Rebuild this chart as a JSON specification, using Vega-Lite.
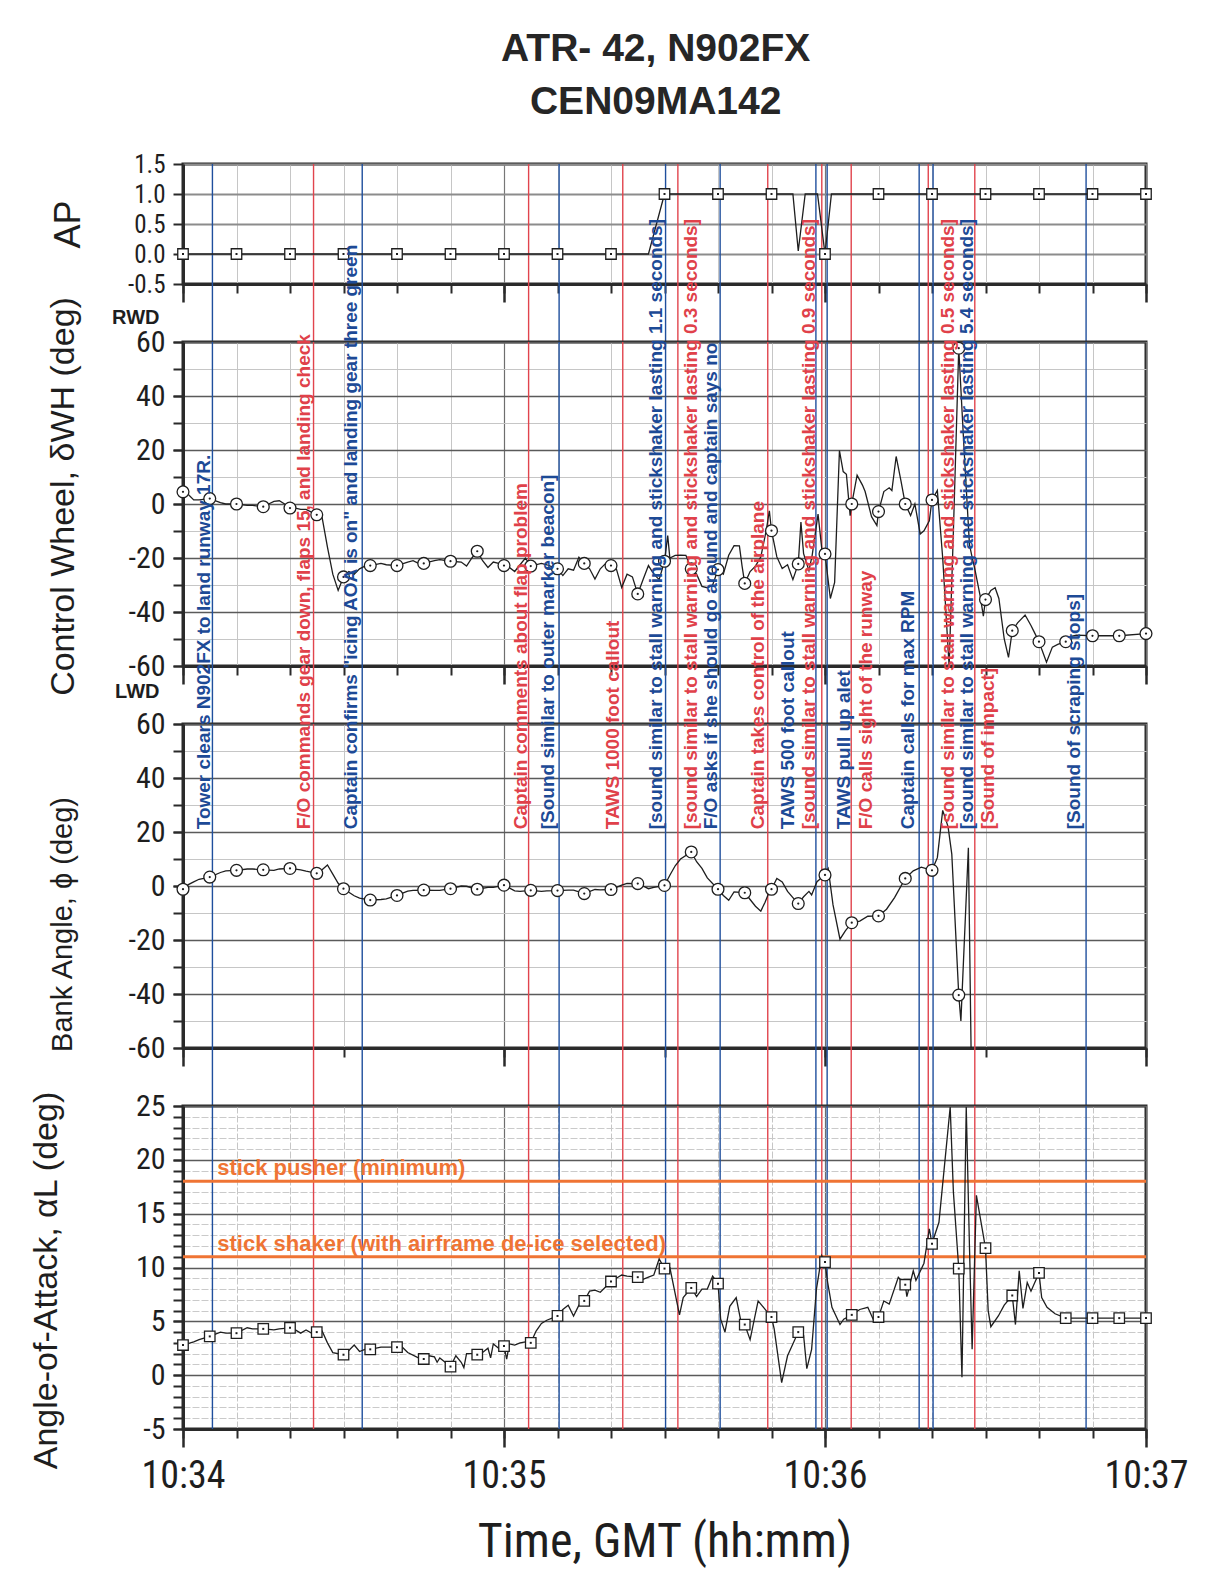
{
 "$schema": "https://vega.github.io/schema/vega-lite/v6.json",
 "background": "white",
 "padding": {"left": 27, "top": 29, "right": 10, "bottom": 10},
 "title": {"text": ["ATR- 42, N902FX", "CEN09MA142"], "fontSize": 39, "fontWeight": "bold", "font": "Liberation Sans", "lineHeight": 53, "color": "#262626", "anchor": "middle", "offset": 29, "dx": 47},
 "spacing": 58,
 "bounds": "flush",
 "datasets": {
  "events": [
   {"n":1,"t":5.5,"tl":5.1,"label":"Tower clears N902FX to land runway 17R."},
   {"n":2,"t":24.4,"tl":23.7,"label":"F/O commands gear down, flaps 15, and landing check"},
   {"n":3,"t":33.5,"tl":32.5,"label":"Captain confirms \"icing AOA is on\" and landing gear three green"},
   {"n":4,"t":64.6,"tl":64.3,"label":"Captain comments about flap problem"},
   {"n":5,"t":70.3,"tl":69.3,"label":"[Sound similar to outer marker beacon]"},
   {"n":6,"t":82.2,"tl":81.5,"label":"TAWS 1000 foot callout"},
   {"n":7,"t":90.2,"tl":89.5,"label":"[sound similar to stall warning and stickshaker lasting 1.1 seconds]"},
   {"n":8,"t":92.5,"tl":96.1,"label":"[sound similar to stall warning and stickshaker lasting 0.3 seconds]"},
   {"n":9,"t":100.4,"tl":99.8,"label":"F/O asks if she should go around and captain says no"},
   {"n":10,"t":109.3,"tl":108.6,"label":"Captain takes control of the airplane"},
   {"n":11,"t":118.3,"tl":114.2,"label":"TAWS 500 foot callout"},
   {"n":12,"t":119.4,"tl":118.1,"label":"[sound similar to stall warning and stickshaker lasting 0.9 seconds]"},
   {"n":13,"t":120.4,"tl":124.7,"label":"TAWS pull up alet"},
   {"n":14,"t":124.9,"tl":128.8,"label":"F/O calls sight of the runway"},
   {"n":15,"t":137.6,"tl":136.6,"label":"Captain calls for max RPM"},
   {"n":16,"t":139.3,"tl":144.1,"label":"[sound similar to stall warning and stickshaker lasting 0.5 seconds]"},
   {"n":17,"t":140.2,"tl":147.7,"label":"[sound similar to stall warning and stickshaker lasting 5.4 seconds]"},
   {"n":18,"t":148.0,"tl":151.6,"label":"[Sound of impact]"},
   {"n":19,"t":168.8,"tl":167.7,"label":"[Sound of scraping stops]"}
  ],
  "limits": [
   {"v":18,"label":"stick pusher (minimum)"},
   {"v":11,"label":"stick shaker (with airframe de-ice selected)"}
  ],
  "ap": [
   {"t":0,"v":0},{"t":10,"v":0},{"t":20,"v":0},{"t":30,"v":0},{"t":40,"v":0},{"t":50,"v":0},{"t":60,"v":0},{"t":70,"v":0},{"t":80,"v":0},{"t":87,"v":0},{"t":90,"v":1},{"t":100,"v":1},{"t":110,"v":1},{"t":114,"v":1},{"t":115,"v":0.05},{"t":116.3,"v":1},{"t":118.6,"v":1},{"t":120,"v":0},{"t":121.2,"v":1},{"t":130,"v":1},{"t":140,"v":1},{"t":150,"v":1},{"t":160,"v":1},{"t":170,"v":1},{"t":180,"v":1}
  ],
  "cw": [
   {"t":0,"v":4.5},{"t":1,"v":3.5},{"t":2,"v":1.5},{"t":3,"v":1.5},{"t":5,"v":2},{"t":7,"v":0.5},{"t":8,"v":0},{"t":10,"v":0},{"t":12,"v":-0.5},{"t":13,"v":-0.5},{"t":15,"v":-1},{"t":16,"v":0},{"t":17,"v":1},{"t":18,"v":1.2},{"t":19,"v":0},{"t":20,"v":-1.5},{"t":21,"v":-1.5},{"t":22,"v":-2},{"t":23,"v":-2},{"t":24,"v":-3},{"t":25,"v":-4},{"t":26,"v":-5},{"t":27,"v":-16},{"t":28,"v":-26},{"t":29,"v":-32},{"t":30,"v":-27},{"t":31,"v":-25},{"t":32,"v":-26},{"t":33,"v":-24},{"t":34,"v":-23},{"t":35,"v":-22.8},{"t":37,"v":-22},{"t":38,"v":-22.5},{"t":40,"v":-22.8},{"t":42,"v":-21.5},{"t":43,"v":-21},{"t":44,"v":-22},{"t":45,"v":-22},{"t":47,"v":-21},{"t":48,"v":-20.6},{"t":50,"v":-21.2},{"t":52,"v":-21.5},{"t":53,"v":-23},{"t":54,"v":-20},{"t":55,"v":-17.5},{"t":56,"v":-21},{"t":57,"v":-23.5},{"t":58,"v":-21.5},{"t":59,"v":-22},{"t":60,"v":-22.8},{"t":61,"v":-23.5},{"t":62,"v":-25},{"t":63,"v":-22.5},{"t":64,"v":-20},{"t":65,"v":-23},{"t":67,"v":-22},{"t":68,"v":-22.5},{"t":70,"v":-24},{"t":71,"v":-26.5},{"t":72,"v":-24},{"t":73,"v":-24.5},{"t":74,"v":-19.7},{"t":75,"v":-22},{"t":76,"v":-24},{"t":77,"v":-27.8},{"t":78,"v":-24},{"t":79,"v":-22},{"t":80,"v":-22.8},{"t":81,"v":-24},{"t":82,"v":-30.9},{"t":83,"v":-26},{"t":84,"v":-27},{"t":85,"v":-33.3},{"t":86,"v":-28},{"t":87,"v":-22.8},{"t":88,"v":-26},{"t":89,"v":-28},{"t":90,"v":-21.2},{"t":90.6,"v":-11.7},{"t":91,"v":-20},{"t":92,"v":-19},{"t":93,"v":-18.9},{"t":94,"v":-19},{"t":95,"v":-24},{"t":96,"v":-26},{"t":97,"v":-30.5},{"t":98,"v":-31},{"t":99,"v":-30},{"t":100,"v":-24.3},{"t":101,"v":-26},{"t":102,"v":-19},{"t":103,"v":-15.4},{"t":104,"v":-15.5},{"t":104.5,"v":-23},{"t":105,"v":-29.4},{"t":106,"v":-25},{"t":107,"v":-23},{"t":108,"v":-19.6},{"t":109,"v":-10},{"t":109.6,"v":-2.5},{"t":110,"v":-9.9},{"t":111,"v":-19.6},{"t":112,"v":-23.9},{"t":113,"v":-22.5},{"t":114,"v":-28},{"t":115,"v":-22.2},{"t":115.5,"v":-6.7},{"t":116,"v":-18.4},{"t":117,"v":-24.7},{"t":117.6,"v":-19},{"t":118.7,"v":-3.7},{"t":119.5,"v":-18.5},{"t":120,"v":-18.5},{"t":121,"v":-35},{"t":121.8,"v":-29},{"t":122.7,"v":19.8},{"t":123.4,"v":12},{"t":124,"v":11},{"t":124.7,"v":-4.3},{"t":125,"v":0},{"t":126,"v":10.7},{"t":127,"v":7},{"t":127.5,"v":4.6},{"t":128.7,"v":-4.7},{"t":129.7,"v":-8},{"t":130,"v":-2.8},{"t":131,"v":4.6},{"t":132,"v":6},{"t":132.5,"v":5},{"t":133.3,"v":17.6},{"t":134.2,"v":8.6},{"t":135,"v":0},{"t":136,"v":-4.3},{"t":136.8,"v":0},{"t":137.8,"v":-11.1},{"t":138.5,"v":-9.9},{"t":139.5,"v":-6.2},{"t":140,"v":1.5},{"t":141,"v":5},{"t":142,"v":-20},{"t":143.2,"v":-60},{"t":144,"v":-10},{"t":145,"v":57.7},{"t":146,"v":20},{"t":147,"v":-15},{"t":147.5,"v":-19.8},{"t":148,"v":-24},{"t":149,"v":-34},{"t":149.6,"v":-41.5},{"t":150,"v":-35.4},{"t":151,"v":-32},{"t":151.8,"v":-31},{"t":152.5,"v":-35},{"t":153.5,"v":-50},{"t":154.3,"v":-56.8},{"t":155,"v":-46.9},{"t":156,"v":-44},{"t":157.4,"v":-41.1},{"t":158.5,"v":-45},{"t":159,"v":-47},{"t":160,"v":-51},{"t":161.4,"v":-58.6},{"t":162.5,"v":-53},{"t":163.5,"v":-52},{"t":165,"v":-51},{"t":166,"v":-49},{"t":167,"v":-48.6},{"t":170,"v":-48.8},{"t":175,"v":-48.8},{"t":180,"v":-48}
  ],
  "bank": [
   {"t":0,"v":-1.2},{"t":1,"v":0.5},{"t":2,"v":1.5},{"t":3,"v":2.5},{"t":5,"v":3.3},{"t":7,"v":5},{"t":8,"v":5.6},{"t":10,"v":5.8},{"t":12,"v":6.3},{"t":13,"v":6.3},{"t":15,"v":6},{"t":17,"v":5.8},{"t":18,"v":6.3},{"t":20,"v":6.5},{"t":22,"v":6},{"t":23,"v":5.5},{"t":25,"v":4.7},{"t":26,"v":6},{"t":27,"v":7.8},{"t":28,"v":4.4},{"t":29,"v":1},{"t":30,"v":-1},{"t":32,"v":-3.6},{"t":33,"v":-4.5},{"t":35,"v":-5.2},{"t":37,"v":-5},{"t":38,"v":-4.8},{"t":40,"v":-3.5},{"t":42,"v":-1.9},{"t":43,"v":-1.6},{"t":45,"v":-1.5},{"t":47,"v":-1.6},{"t":48,"v":-1.6},{"t":50,"v":-1},{"t":52,"v":0},{"t":53,"v":-0.1},{"t":55,"v":-1.2},{"t":57,"v":-0.5},{"t":58,"v":-0.5},{"t":60,"v":0.3},{"t":62,"v":-1.8},{"t":63,"v":-2},{"t":65,"v":-1.6},{"t":67,"v":-2},{"t":68,"v":-1.8},{"t":70,"v":-1.7},{"t":72,"v":-1.5},{"t":73,"v":-1.5},{"t":75,"v":-2.8},{"t":77,"v":-1.3},{"t":78,"v":-1.4},{"t":80,"v":-1.3},{"t":82,"v":0.3},{"t":83,"v":1},{"t":85,"v":0.9},{"t":86,"v":0},{"t":87,"v":-1},{"t":88,"v":-0.5},{"t":90,"v":0.2},{"t":91,"v":4},{"t":92,"v":7.5},{"t":93,"v":10},{"t":95,"v":12.6},{"t":96,"v":9},{"t":97,"v":6.5},{"t":98,"v":3},{"t":100,"v":-1.2},{"t":101,"v":-3.5},{"t":102,"v":-5.3},{"t":103,"v":-2.2},{"t":105,"v":-2.5},{"t":106,"v":-5},{"t":107,"v":-7.5},{"t":108,"v":-9.3},{"t":108.8,"v":-6},{"t":109.5,"v":-2.5},{"t":110,"v":-1.2},{"t":111,"v":2.8},{"t":112,"v":1.5},{"t":113,"v":-2},{"t":114,"v":-4.3},{"t":115,"v":-6.5},{"t":116,"v":-4},{"t":117,"v":-2},{"t":117.5,"v":-3.3},{"t":118.5,"v":1.6},{"t":120,"v":4.1},{"t":120.6,"v":6.4},{"t":121.5,"v":-7},{"t":122.8,"v":-19.7},{"t":123.8,"v":-16.6},{"t":125,"v":-13.6},{"t":126.5,"v":-13},{"t":128,"v":-11.2},{"t":130,"v":-11.1},{"t":131.5,"v":-8.6},{"t":133,"v":-4.3},{"t":135,"v":2.8},{"t":136.5,"v":5.6},{"t":138,"v":7},{"t":140,"v":5.8},{"t":141,"v":10.5},{"t":142,"v":28},{"t":143,"v":22},{"t":143.7,"v":11.8},{"t":145,"v":-40.4},{"t":145.4,"v":-50},{"t":146.8,"v":14.2},{"t":147.3,"v":-60}
  ],
  "aoa": [
   {"t":0,"v":2.8},{"t":2,"v":3.1},{"t":3,"v":3.3},{"t":5,"v":3.6},{"t":7,"v":4},{"t":8,"v":3.9},{"t":10,"v":3.9},{"t":12,"v":4.4},{"t":13,"v":4.3},{"t":15,"v":4.3},{"t":17,"v":4.2},{"t":18,"v":4.3},{"t":20,"v":4.4},{"t":21,"v":4.2},{"t":22,"v":3.9},{"t":23,"v":4.2},{"t":24,"v":3.9},{"t":25,"v":4.0},{"t":26,"v":4.1},{"t":27,"v":3.0},{"t":28,"v":2.1},{"t":30,"v":1.9},{"t":31,"v":2.3},{"t":32,"v":2.8},{"t":33,"v":2.2},{"t":34,"v":2.4},{"t":35,"v":2.4},{"t":37,"v":2.6},{"t":38,"v":2.6},{"t":40,"v":2.6},{"t":41,"v":2.6},{"t":42,"v":2.1},{"t":44,"v":1.6},{"t":45,"v":1.5},{"t":46,"v":1.8},{"t":47,"v":1.7},{"t":47.5,"v":1.2},{"t":48,"v":1.6},{"t":49,"v":1.2},{"t":50,"v":0.8},{"t":51,"v":1.8},{"t":52,"v":1.2},{"t":52.5,"v":0.7},{"t":53,"v":2.0},{"t":54,"v":2.0},{"t":55,"v":1.9},{"t":56,"v":2.1},{"t":57,"v":2.5},{"t":57.5,"v":1.6},{"t":58,"v":2.9},{"t":59,"v":2.5},{"t":60,"v":2.7},{"t":60.5,"v":1.5},{"t":61,"v":2.9},{"t":62,"v":2.8},{"t":63,"v":3.0},{"t":64,"v":3.1},{"t":65,"v":3.0},{"t":66,"v":4.1},{"t":67,"v":4.8},{"t":68,"v":5.1},{"t":70,"v":5.5},{"t":71,"v":6.1},{"t":72,"v":6.5},{"t":73,"v":5.5},{"t":74,"v":6.5},{"t":75,"v":6.9},{"t":76,"v":7.8},{"t":77,"v":7.9},{"t":78,"v":7.7},{"t":80,"v":8.7},{"t":81,"v":9.0},{"t":82,"v":9.3},{"t":83,"v":9.2},{"t":85,"v":9.1},{"t":86,"v":8.9},{"t":87,"v":9.1},{"t":88,"v":9.3},{"t":89,"v":10.8},{"t":90,"v":9.9},{"t":90.7,"v":10.1},{"t":91,"v":10},{"t":92.8,"v":5.6},{"t":93.5,"v":7.2},{"t":95,"v":8.1},{"t":96,"v":7.3},{"t":97,"v":8.0},{"t":98,"v":8.0},{"t":99,"v":9.2},{"t":100,"v":8.5},{"t":100.5,"v":5.2},{"t":101.3,"v":4.0},{"t":102.2,"v":6.4},{"t":103.4,"v":7.2},{"t":104.2,"v":5.2},{"t":105,"v":4.7},{"t":106,"v":3.3},{"t":107.5,"v":6.9},{"t":109,"v":6},{"t":110,"v":5.4},{"t":110.5,"v":4.3},{"t":111.9,"v":-0.7},{"t":113,"v":1.8},{"t":115,"v":4.0},{"t":116,"v":3.7},{"t":116.6,"v":0.6},{"t":117.5,"v":2.4},{"t":118.4,"v":8.0},{"t":119.4,"v":11.1},{"t":120,"v":10.5},{"t":120.5,"v":8.6},{"t":121.3,"v":6.3},{"t":122.8,"v":4.7},{"t":123.5,"v":5.2},{"t":125,"v":5.6},{"t":126.5,"v":6.1},{"t":128,"v":6.3},{"t":129,"v":5.2},{"t":130,"v":5.4},{"t":131,"v":6.9},{"t":132,"v":6.6},{"t":133.7,"v":9.1},{"t":135,"v":8.4},{"t":135.3,"v":7.3},{"t":136.5,"v":9.7},{"t":137,"v":8.8},{"t":138.5,"v":10.4},{"t":139.5,"v":13.6},{"t":140,"v":12.2},{"t":140.3,"v":12.7},{"t":141.3,"v":14.2},{"t":143.4,"v":24.9},{"t":144,"v":17},{"t":145,"v":9.9},{"t":145.6,"v":-0.2},{"t":146.4,"v":24.9},{"t":147,"v":12},{"t":147.5,"v":2.4},{"t":148.3,"v":16.7},{"t":150,"v":11.8},{"t":150.5,"v":6},{"t":151,"v":4.5},{"t":152.4,"v":5.5},{"t":153.5,"v":6.5},{"t":155,"v":7.4},{"t":155.6,"v":4.7},{"t":156.3,"v":9.7},{"t":157,"v":6.2},{"t":157.8,"v":8.6},{"t":158.5,"v":7.8},{"t":160,"v":9.5},{"t":160.5,"v":7.2},{"t":161.5,"v":6.3},{"t":163,"v":5.7},{"t":165,"v":5.3},{"t":170,"v":5.3},{"t":175,"v":5.3},{"t":180,"v":5.3}
  ]
 },
 "vconcat": [
  {
   "width": 963, "height": 120,
   "layer": [
    {"data": {"name": "events"}, "mark": {"type": "rule", "strokeWidth": 1.4},
     "encoding": {"x": {"field": "t", "type": "quantitative", "scale": {"domain": [0, 180], "nice": false, "zero": false}, "axis": null},
      "y": {"datum": 1.5, "type": "quantitative", "scale": {"domain": [-0.5, 1.5], "nice": false, "zero": false}, "axis": null},
      "y2": {"datum": -1.467},
      "color": {"condition": {"test": "datum.n % 2 == 1", "value": "#1f4f9d"}, "value": "#e1444d"}}},
    {"data": {"name": "ap"}, "mark": {"type": "line", "color": "#1e1e1e", "strokeWidth": 1.3},
     "encoding": {
      "x": {"field": "t", "type": "quantitative", "scale": {"domain": [0, 180], "nice": false, "zero": false},
       "axis": {"orient": "bottom", "values": [0,10,20,30,40,50,60,70,80,90,100,110,120,130,140,150,160,170,180], "grid": true, "gridColor": "#c6c6c6", "gridWidth": 1, "ticks": true, "tickSize": 9, "tickWidth": 2, "labels": false, "domain": false, "title": null}},
      "y": {"field": "v", "type": "quantitative", "scale": {"domain": [-0.5, 1.5], "nice": false, "zero": false},
       "axis": {"orient": "left", "values": [-0.5, 0, 0.5, 1, 1.5], "format": ".1f", "grid": true, "gridColor": "#8c8c8c", "gridWidth": 2, "tickSize": 10, "tickWidth": 2, "labelFontSize": 25, "labelPadding": 8, "domain": true, "domainWidth": 3, "title": "AP", "titleFontSize": 36, "titlePadding": 40}}}},
    {"data": {"name": "ap"}, "transform": [{"filter": "datum.t % 10 == 0"}],
     "mark": {"type": "point", "shape": "square", "filled": true, "fill": "white", "stroke": "#1e1e1e", "strokeWidth": 1.3, "size": 110, "opacity": 1},
     "encoding": {
      "x": {"field": "t", "type": "quantitative", "scale": {"domain": [0, 180], "nice": false, "zero": false},
       "axis": {"orient": "bottom", "values": [0, 60, 120, 180], "grid": true, "gridColor": "#777777", "gridWidth": 1.2, "tickSize": 18, "tickWidth": 2.5, "labels": false, "domain": true, "domainWidth": 3, "title": null}},
      "y": {"field": "v", "type": "quantitative", "axis": null}}},
    {"data": {"name": "ap"}, "transform": [{"filter": "datum.t % 10 == 0"}],
     "mark": {"type": "point", "shape": "square", "filled": true, "color": "#1e1e1e", "size": 4, "opacity": 1},
     "encoding": {"x": {"field": "t", "type": "quantitative", "axis": null}, "y": {"field": "v", "type": "quantitative", "axis": null}}}
   ],
   "resolve": {"axis": {"x": "independent", "y": "independent"}}
  },
  {
   "width": 963, "height": 324,
   "layer": [
    {"data": {"name": "events"}, "mark": {"type": "rule", "strokeWidth": 1.4},
     "encoding": {"x": {"field": "t", "type": "quantitative", "scale": {"domain": [0, 180], "nice": false, "zero": false}, "axis": null},
      "y": {"datum": 60, "type": "quantitative", "scale": {"domain": [-60, 60], "nice": false, "zero": false}, "axis": null},
      "y2": {"datum": -81.5},
      "color": {"condition": {"test": "datum.n % 2 == 1", "value": "#1f4f9d"}, "value": "#e1444d"}}},
    {"data": {"name": "cw"}, "mark": {"type": "line", "color": "#1e1e1e", "strokeWidth": 1.3},
     "encoding": {
      "x": {"field": "t", "type": "quantitative", "scale": {"domain": [0, 180], "nice": false, "zero": false},
       "axis": {"orient": "bottom", "values": [0,10,20,30,40,50,60,70,80,90,100,110,120,130,140,150,160,170,180], "grid": true, "gridColor": "#c6c6c6", "gridWidth": 1, "ticks": true, "tickSize": 9, "tickWidth": 2, "labels": false, "domain": false, "title": null}},
      "y": {"field": "v", "type": "quantitative", "scale": {"domain": [-60, 60], "nice": false, "zero": false},
       "axis": {"orient": "left", "values": [-60,-50,-40,-30,-20,-10,0,10,20,30,40,50,60], "grid": true, "gridColor": "#c6c6c6", "gridWidth": 1, "tickSize": 10, "tickWidth": 2, "domain": false, "title": null,
        "labelExpr": "datum.value == 60 ? 'RWD' : (datum.value == -60 ? 'LWD' : '')", "labelFont": "Liberation Sans", "labelFontWeight": "bold", "labelFontSize": 20, "labelPadding": 14,
        "labelOffset": {"condition": {"test": "datum.value > 0", "value": -25}, "value": 25}}}}},
    {"data": {"name": "cw"}, "transform": [{"filter": "datum.t % 5 == 0"}],
     "mark": {"type": "point", "shape": "circle", "filled": true, "fill": "white", "stroke": "#1e1e1e", "strokeWidth": 1.3, "size": 140, "opacity": 1},
     "encoding": {
      "x": {"field": "t", "type": "quantitative", "scale": {"domain": [0, 180], "nice": false, "zero": false},
       "axis": {"orient": "bottom", "values": [0, 60, 120, 180], "grid": true, "gridColor": "#6e6e6e", "gridWidth": 1.2, "tickSize": 18, "tickWidth": 2.5, "labels": false, "domain": true, "domainWidth": 3, "title": null}},
      "y": {"field": "v", "type": "quantitative", "scale": {"domain": [-60, 60], "nice": false, "zero": false},
       "axis": {"orient": "left", "values": [-60,-40,-20,0,20,40,60], "grid": true, "gridColor": "#5a5a5a", "gridWidth": 1.5, "tickSize": 10, "tickWidth": 2, "labelFontSize": 30, "labelPadding": 8, "domain": true, "domainWidth": 3, "title": "Control Wheel, δWH (deg)", "titleFontSize": 34, "titlePadding": 47, "titleY": 154}}}},
    {"data": {"name": "cw"}, "transform": [{"filter": "datum.t % 5 == 0"}],
     "mark": {"type": "point", "shape": "circle", "filled": true, "color": "#1e1e1e", "size": 5, "opacity": 1},
     "encoding": {"x": {"field": "t", "type": "quantitative", "axis": null}, "y": {"field": "v", "type": "quantitative", "axis": null}}}
   ],
   "resolve": {"axis": {"x": "independent", "y": "independent"}}
  },
  {
   "width": 963, "height": 324,
   "layer": [
    {"data": {"name": "events"}, "mark": {"type": "rule", "strokeWidth": 1.4},
     "encoding": {"x": {"field": "t", "type": "quantitative", "scale": {"domain": [0, 180], "nice": false, "zero": false}, "axis": null},
      "y": {"datum": 60, "type": "quantitative", "scale": {"domain": [-60, 60], "nice": false, "zero": false}, "axis": null},
      "y2": {"datum": -81.5},
      "color": {"condition": {"test": "datum.n % 2 == 1", "value": "#1f4f9d"}, "value": "#e1444d"}}},
    {"data": {"name": "bank"}, "mark": {"type": "line", "color": "#1e1e1e", "strokeWidth": 1.3},
     "encoding": {
      "x": {"field": "t", "type": "quantitative", "scale": {"domain": [0, 180], "nice": false, "zero": false},
       "axis": {"orient": "bottom", "values": [0,30,60,90,120,150,180], "grid": true, "gridColor": "#c6c6c6", "gridWidth": 1, "ticks": true, "tickSize": 9, "tickWidth": 2, "labels": false, "domain": false, "title": null}},
      "y": {"field": "v", "type": "quantitative", "scale": {"domain": [-60, 60], "nice": false, "zero": false},
       "axis": {"orient": "left", "values": [-60,-50,-40,-30,-20,-10,0,10,20,30,40,50,60], "grid": true, "gridColor": "#c6c6c6", "gridWidth": 1, "tickSize": 10, "tickWidth": 2, "domain": false, "labels": false, "title": null}}}},
    {"data": {"name": "bank"}, "transform": [{"filter": "datum.t % 5 == 0"}],
     "mark": {"type": "point", "shape": "circle", "filled": true, "fill": "white", "stroke": "#1e1e1e", "strokeWidth": 1.3, "size": 140, "opacity": 1},
     "encoding": {
      "x": {"field": "t", "type": "quantitative", "scale": {"domain": [0, 180], "nice": false, "zero": false},
       "axis": {"orient": "bottom", "values": [0, 60, 120, 180], "grid": true, "gridColor": "#6e6e6e", "gridWidth": 1.2, "tickSize": 18, "tickWidth": 2.5, "labels": false, "domain": true, "domainWidth": 3, "title": null}},
      "y": {"field": "v", "type": "quantitative", "scale": {"domain": [-60, 60], "nice": false, "zero": false},
       "axis": {"orient": "left", "values": [-60,-40,-20,0,20,40,60], "grid": true, "gridColor": "#5a5a5a", "gridWidth": 1.5, "tickSize": 10, "tickWidth": 2, "labelFontSize": 30, "labelPadding": 8, "domain": true, "domainWidth": 3, "title": "Bank Angle, ϕ (deg)", "titleFontSize": 29, "titlePadding": 50, "titleY": 200}}}},
    {"data": {"name": "bank"}, "transform": [{"filter": "datum.t % 5 == 0"}],
     "mark": {"type": "point", "shape": "circle", "filled": true, "color": "#1e1e1e", "size": 5, "opacity": 1},
     "encoding": {"x": {"field": "t", "type": "quantitative", "axis": null}, "y": {"field": "v", "type": "quantitative", "axis": null}}},
    {"data": {"name": "events"},
     "mark": {"type": "text", "angle": 270, "align": "left", "baseline": "alphabetic", "fontSize": 19, "fontWeight": "bold", "font": "Liberation Sans"},
     "encoding": {
      "x": {"field": "tl", "type": "quantitative", "scale": {"domain": [0, 180], "nice": false, "zero": false}, "axis": null},
      "y": {"datum": 21, "type": "quantitative", "axis": null},
      "text": {"field": "label"},
      "color": {"condition": {"test": "datum.n % 2 == 1", "value": "#1d4a96"}, "value": "#e0414a"}}}
   ],
   "resolve": {"axis": {"x": "independent", "y": "independent"}}
  },
  {
   "width": 963, "height": 323,
   "layer": [
    {"data": {"name": "events"}, "mark": {"type": "rule", "strokeWidth": 1.4},
     "encoding": {"x": {"field": "t", "type": "quantitative", "scale": {"domain": [0, 180], "nice": false, "zero": false}, "axis": null},
      "color": {"condition": {"test": "datum.n % 2 == 1", "value": "#1f4f9d"}, "value": "#e1444d"}}},
    {"data": {"name": "limits"}, "mark": {"type": "rule", "color": "#ef7434", "strokeWidth": 3},
     "encoding": {"y": {"field": "v", "type": "quantitative", "scale": {"domain": [-5, 25], "nice": false, "zero": false}, "axis": null}}},
    {"data": {"name": "limits"}, "mark": {"type": "text", "align": "left", "baseline": "alphabetic", "dy": -6, "fontSize": 22, "fontWeight": "bold", "font": "Liberation Sans", "color": "#ef7434"},
     "encoding": {"x": {"datum": 6.4, "type": "quantitative", "axis": null}, "y": {"field": "v", "type": "quantitative", "axis": null}, "text": {"field": "label"}}},
    {"data": {"name": "aoa"}, "mark": {"type": "line", "color": "#1e1e1e", "strokeWidth": 1.3},
     "encoding": {
      "x": {"field": "t", "type": "quantitative", "scale": {"domain": [0, 180], "nice": false, "zero": false},
       "axis": {"orient": "bottom", "values": [0,10,20,30,40,50,60,70,80,90,100,110,120,130,140,150,160,170,180], "grid": true, "gridColor": "#c6c6c6", "gridWidth": 1, "gridDash": [7, 2], "ticks": true, "tickSize": 9, "tickWidth": 2, "labels": false, "domain": false, "title": null}},
      "y": {"field": "v", "type": "quantitative", "scale": {"domain": [-5, 25], "nice": false, "zero": false},
       "axis": {"orient": "left", "values": [-5,-4,-3,-2,-1,0,1,2,3,4,5,6,7,8,9,10,11,12,13,14,15,16,17,18,19,20,21,22,23,24,25], "grid": true, "gridColor": "#cacaca", "gridWidth": 1, "gridDash": [7, 2], "tickSize": 10, "tickWidth": 2, "domain": false, "labels": false, "title": null}}}},
    {"data": {"name": "aoa"}, "transform": [{"filter": "datum.t % 5 == 0"}],
     "mark": {"type": "point", "shape": "square", "filled": true, "fill": "white", "stroke": "#1e1e1e", "strokeWidth": 1.3, "size": 110, "opacity": 1},
     "encoding": {
      "x": {"field": "t", "type": "quantitative", "scale": {"domain": [0, 180], "nice": false, "zero": false},
       "axis": {"orient": "bottom", "values": [0, 60, 120, 180], "grid": true, "gridColor": "#6e6e6e", "gridWidth": 1.2, "tickSize": 18, "tickWidth": 2.5, "labels": true, "labelFlush": false, "labelExpr": "'10:' + (34 + datum.value / 60)", "labelFontSize": 38, "labelPadding": 10, "domain": true, "domainWidth": 3, "title": "Time, GMT (hh:mm)", "titleFont": "Roboto Condensed, DejaVu Sans Condensed, Liberation Sans", "titleFontSize": 48, "titlePadding": 23}},
      "y": {"field": "v", "type": "quantitative", "scale": {"domain": [-5, 25], "nice": false, "zero": false},
       "axis": {"orient": "left", "values": [-5,0,5,10,15,20,25], "grid": true, "gridColor": "#5a5a5a", "gridWidth": 1.5, "tickSize": 10, "tickWidth": 2, "labelFontSize": 30, "labelPadding": 8, "domain": true, "domainWidth": 3, "title": "Angle-of-Attack, αL (deg)", "titleFontSize": 34, "titlePadding": 72, "titleY": 174}}}},
    {"data": {"name": "aoa"}, "transform": [{"filter": "datum.t % 5 == 0"}],
     "mark": {"type": "point", "shape": "square", "filled": true, "color": "#1e1e1e", "size": 4, "opacity": 1},
     "encoding": {"x": {"field": "t", "type": "quantitative", "axis": null}, "y": {"field": "v", "type": "quantitative", "axis": null}}}
   ],
   "resolve": {"axis": {"x": "independent", "y": "independent"}}
  }
 ],
 "config": {
  "locale": {"number": {"decimal": ".", "thousands": ",", "grouping": [3], "currency": ["$", ""], "minus": "-"}},
  "view": {"stroke": "#2a2a2a", "strokeWidth": 3},
  "axis": {"labelFont": "Roboto Condensed, DejaVu Sans Condensed, Liberation Sans", "titleFont": "Liberation Sans", "labelColor": "#1e1e1e", "titleColor": "#1e1e1e", "titleFontWeight": "normal", "tickColor": "#2a2a2a", "domainColor": "#2a2a2a", "labelOverlap": false}
 }
}
